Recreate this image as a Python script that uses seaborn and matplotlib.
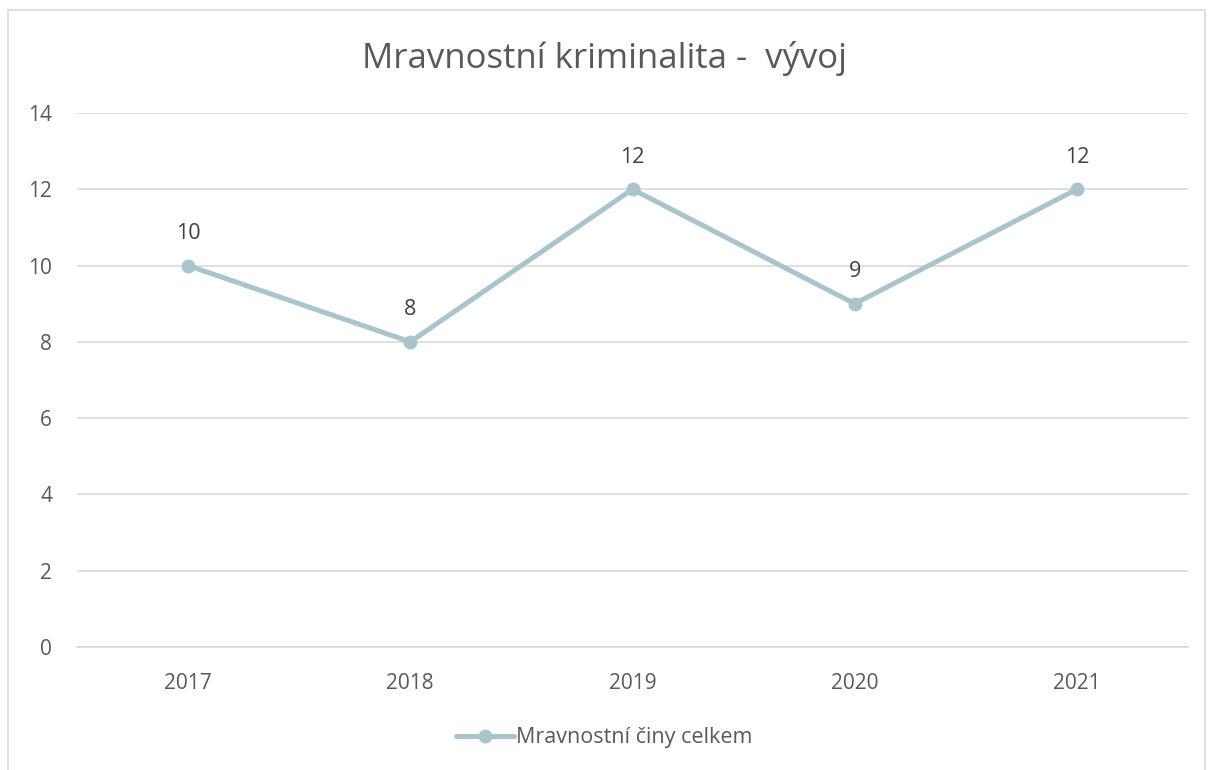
import matplotlib
matplotlib.use("Agg")
import matplotlib.pyplot as plt
import pandas as pd
import seaborn as sns
from matplotlib.patches import Rectangle
from matplotlib.lines import Line2D

years = ["2017", "2018", "2019", "2020", "2021"]
counts = [10, 8, 12, 9, 12]
series_name = "Mravnostní činy celkem"
title = "Mravnostní kriminalita -  vývoj"

df = pd.DataFrame({"year": years, "count": counts})

sns.set_style("white")
plt.rcParams["font.family"] = ["Open Sans", "DejaVu Sans"]

line_color = "#A9C4CC"
text_color = "#595959"

fig = plt.figure(figsize=(12.08, 7.70), dpi=100)
ax = fig.add_axes([77 / 1208, 1 - 647 / 770, (1188 - 77) / 1208, (647 - 113) / 770])

sns.lineplot(data=df, x="year", y="count", ax=ax, color=line_color,
             linewidth=3.6, marker="o", markersize=10, markeredgewidth=0,
             sort=False)

# data labels above each point
for i, v in enumerate(counts):
    ax.annotate(str(v), (i, v), xytext=(0, 23), textcoords="offset points",
                ha="center", va="center", fontsize=15.5, color="#404040")

ax.set_xlim(-0.5, len(years) - 0.5)
ax.set_ylim(0, 14)
ax.set_yticks(range(0, 15, 2))
ax.yaxis.grid(True, color="#D9D9D9", linewidth=1.2)
ax.set_axisbelow(True)
for side in ["left", "right", "top"]:
    ax.spines[side].set_visible(False)
ax.spines["bottom"].set_color("#D9D9D9")
ax.spines["bottom"].set_linewidth(1.2)
ax.tick_params(axis="both", length=0, labelsize=15, labelcolor=text_color)
ax.tick_params(axis="x", pad=19)
ax.tick_params(axis="y", pad=18)
ax.set_xlabel("")
ax.set_ylabel("")

fig.text(0.5, 1 - 58 / 770, title, ha="center", va="center", fontsize=25,
         color=text_color)

handle = Line2D([], [], color=line_color, linewidth=3.6, marker="o",
                markersize=10, markeredgewidth=0)
fig.legend([handle], [series_name], loc="center", bbox_to_anchor=(0.5, 1 - 738 / 770),
           frameon=False, fontsize=15.5, labelcolor=text_color, handlelength=2.7,
           handletextpad=0.1)

# outer chart border
fig.patches.append(Rectangle((8 / 1208, -0.01), 1197 / 1208, 1 - 10 / 770 + 0.01,
                             transform=fig.transFigure, fill=False,
                             edgecolor="#D9D9D9", linewidth=1.2))

fig.savefig("out.png", dpi=100)
